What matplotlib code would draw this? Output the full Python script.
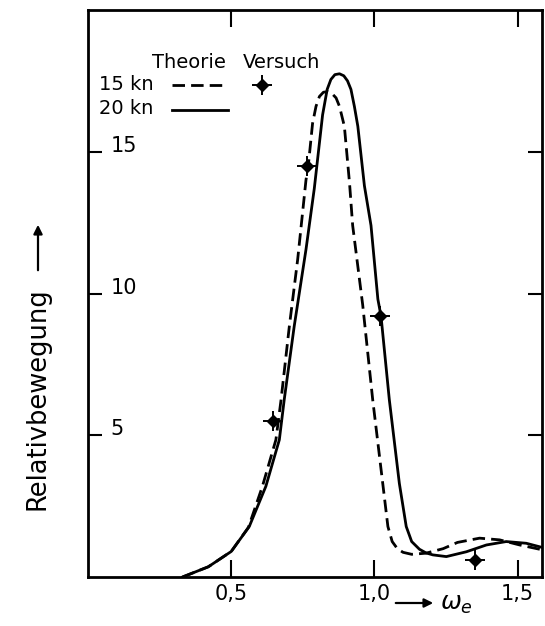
import matplotlib
matplotlib.use("Agg")
import matplotlib.pyplot as plt
from matplotlib.lines import Line2D

# ---- data ----
x_15kn = [0.33, 0.42, 0.50, 0.56, 0.609, 0.656, 0.674, 0.703, 0.732, 0.761, 0.770,
          0.784, 0.796, 0.808, 0.822, 0.837, 0.852, 0.866, 0.878, 0.895, 0.913, 0.924, 0.959,
          0.994, 1.029, 1.047, 1.062, 1.080, 1.10, 1.13, 1.18, 1.24, 1.29, 1.367, 1.437, 1.507, 1.59]
y_15kn = [0.0, 0.36, 0.9, 1.75, 3.2, 4.84, 6.25, 8.85, 11.2, 14.0, 14.6,
          16.0, 16.6, 16.95, 17.1, 17.12, 17.05, 16.9, 16.6, 15.9, 13.9, 12.4, 9.6,
          6.25, 3.3, 1.78, 1.25, 1.0, 0.87, 0.80, 0.84, 1.0, 1.22, 1.37, 1.31, 1.13, 0.95]

x_20kn = [0.33, 0.42, 0.50, 0.563, 0.621, 0.668, 0.685, 0.720, 0.761, 0.790, 0.819,
          0.835, 0.848, 0.862, 0.878, 0.893, 0.906, 0.918, 0.930, 0.942, 0.965, 0.988, 1.012, 1.023,
          1.052, 1.087, 1.111, 1.13, 1.157, 1.18, 1.204, 1.251, 1.321, 1.391, 1.460, 1.530, 1.594]
y_20kn = [0.0, 0.36, 0.9, 1.78, 3.2, 4.84, 6.25, 8.85, 11.55, 13.7, 16.3,
          17.2, 17.55, 17.72, 17.75, 17.68, 17.5, 17.2, 16.6, 15.9, 13.8, 12.4, 9.8, 9.2,
          6.25, 3.3, 1.78, 1.25, 0.98, 0.85, 0.78, 0.72, 0.89, 1.13, 1.25, 1.19, 1.02]

x_versuch = [0.647, 0.766, 1.02, 1.35]
y_versuch = [5.5, 14.5, 9.2, 0.6]

xticks = [0.5, 1.0, 1.5]
xticklabels = ["0,5", "1,0", "1,5"]
yticks = [5, 10, 15]
yticklabels = ["5", "10", "15"]

# ---- figure ----
W, H = 545, 626
fig = plt.figure(figsize=(W / 100, H / 100), dpi=100)
ax = fig.add_axes([88 / W, 1 - 577 / H, (542 - 88) / W, (577 - 10) / H])

lw = 2.0
dash = (0, (4.5, 2.2))
ax.plot(x_15kn, y_15kn, color="black", lw=lw, linestyle=dash, dash_capstyle="butt",
        solid_joinstyle="round")
ax.plot(x_20kn, y_20kn, color="black", lw=lw, linestyle="-", solid_joinstyle="round")
ax.plot(x_versuch, y_versuch, linestyle="none", marker="D", markersize=6.5,
        color="black")
ax.plot(x_versuch, y_versuch, linestyle="none", marker="+", markersize=14,
        markeredgewidth=1.4, color="black")

ax.set_xlim(0, 1.585)
ax.set_ylim(0, 20)

for s in ax.spines.values():
    s.set_linewidth(2.0)

fs = 15
ax.set_xticks(xticks)
ax.set_xticklabels(xticklabels, fontsize=fs)
ax.set_yticks(yticks)
ax.set_yticklabels(yticklabels, fontsize=fs)
ax.tick_params(axis="x", direction="in", length=12, width=1.5, pad=5,
               top=True, bottom=True)
ax.tick_params(axis="y", direction="in", length=10, width=1.5, pad=-16,
               left=True, right=True)
for lbl in ax.get_yticklabels():
    lbl.set_horizontalalignment("left")
    lbl.set_verticalalignment("baseline")

# x-axis arrow and omega_e label
ax.annotate("", xy=(436 / W, 1 - 603 / H), xytext=(393 / W, 1 - 603 / H),
            xycoords="figure fraction", textcoords="figure fraction",
            arrowprops=dict(arrowstyle="-|>", color="black", lw=1.6,
                            mutation_scale=13))
fig.text(440 / W, 1 - 604 / H, r"$\omega_e$", fontsize=18, ha="left", va="center")

# y-axis label with arrow
fig.text(38 / W, 1 - 399 / H, "Relativbewegung", rotation=90, fontsize=18.5,
         ha="center", va="center")
ax.annotate("", xy=(38 / W, 1 - 222 / H), xytext=(38 / W, 1 - 273 / H),
            xycoords="figure fraction", textcoords="figure fraction",
            arrowprops=dict(arrowstyle="-|>", color="black", lw=1.6, mutation_scale=13))

# legend (drawn in axes)
tf = ax.transAxes
def ax_pt(px, py):
    return ((px - 88) / (542 - 88), (577 - py) / (577 - 10))

lfs = 14
ax.text(*ax_pt(152, 62), "Theorie", transform=tf, fontsize=lfs, ha="left", va="center")
ax.text(*ax_pt(243, 62), "Versuch", transform=tf, fontsize=lfs, ha="left", va="center")
ax.text(*ax_pt(99, 84), "15 kn", transform=tf, fontsize=lfs, ha="left", va="center")
ax.text(*ax_pt(99, 108), "20 kn", transform=tf, fontsize=lfs, ha="left", va="center")
a0, b0 = ax_pt(172, 85)
a1, _ = ax_pt(226, 85)
ax.add_line(Line2D([a0, a1], [b0, b0], transform=tf, color="black", lw=lw,
                   linestyle=dash))
a0, b0 = ax_pt(172, 110)
a1, _ = ax_pt(228, 110)
ax.add_line(Line2D([a0, a1], [b0, b0], transform=tf, color="black", lw=lw))
mx, my = ax_pt(262, 85)
ax.add_line(Line2D([mx], [my], transform=tf, linestyle="none", marker="D",
                   markersize=6.5, color="black"))
ax.add_line(Line2D([mx], [my], transform=tf, linestyle="none", marker="+",
                   markersize=14, markeredgewidth=1.4, color="black"))

fig.savefig("out.png", dpi=100)
